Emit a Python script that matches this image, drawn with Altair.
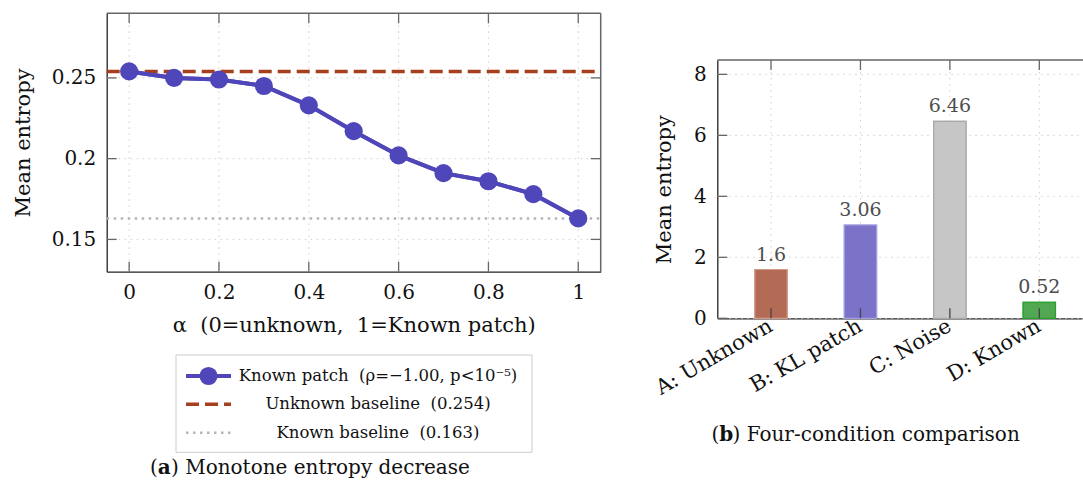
import altair as alt
import pandas as pd

# ---------------- data ----------------
alphas = [0.0, 0.1, 0.2, 0.3, 0.4, 0.5, 0.6, 0.7, 0.8, 0.9, 1.0]
entropy = [0.254, 0.250, 0.249, 0.245, 0.233, 0.217, 0.202, 0.191, 0.186, 0.178, 0.163]
unknown_baseline = 0.254
known_baseline = 0.163

conditions = ["A: Unknown", "B: KL patch", "C: Noise", "D: Known"]
cond_values = [1.6, 3.06, 6.46, 0.52]

left_x_ticks = [0, 0.2, 0.4, 0.6, 0.8, 1]
left_y_ticks = [0.15, 0.2, 0.25]
right_y_ticks = [0, 2, 4, 6, 8]

SP2 = "\u00a0 "  # wide gap that SVG does not collapse
legend_labels = ["Known patch" + SP2 + "(ρ=−1.00, p<10⁻⁵)",
                 "Unknown baseline" + SP2 + "(0.254)",
                 "Known baseline" + SP2 + "(0.163)"]
x_title_left = "α" + SP2 + "(0=unknown," + SP2 + "1=Known patch)"

# ---------------- layout / style ----------------
W, H = 1083, 493
LX0, LX1, LY0, LY1 = 106.7, 600.7, 13.3, 271.7
RX0, RX1, RY0, RY1 = 717.3, 1083, 60.0, 318.3
FONT = "DejaVu Serif"
BLUE = "#4f47b9"
BROWN = "#a63f1e"
GRAY_DOT = "#b5b5b5"
GRID = "#cfcfcf"
TICK = "#666666"
FRAME = "#666666"
bar_fills = ["#b36b55", "#7b73c8", "#c6c6c6", "#52a852"]
bar_strokes = ["#d39a88", "#a49ee0", "#a8a8a8", "#2ca02c"]

line_df = pd.DataFrame({"alpha": alphas, "entropy": entropy})
bar_df = pd.DataFrame({"cond": conditions, "val": cond_values})
lx_df = pd.DataFrame({"alpha": left_x_ticks})
ly_df = pd.DataFrame({"entropy": left_y_ticks})
ry_df = pd.DataFrame({"val": right_y_ticks})
cond_df = pd.DataFrame({"cond": conditions})
one = pd.DataFrame({"k": [0]})

# ---------------- scales / axes ----------------
xs = alt.Scale(domain=[-0.05, 1.05], range=[LX0, LX1], nice=False, zero=False)
ys = alt.Scale(domain=[0.13, 0.29], range=[LY1, LY0], nice=False, zero=False)
xb = alt.Scale(domain=conditions, range=[RX0, 1082], paddingInner=0.6388,
               paddingOuter=0.3584, align=0.586)
yb = alt.Scale(domain=[0, 8.47], range=[RY1, RY0], nice=False)

x_axis_l = alt.Axis(orient="bottom", offset=-(H - LY1), values=left_x_ticks, format="~g",
                    ticks=False, grid=False, domainColor="#222222", domainWidth=1.3,
                    labelPadding=11, labelFontSize=20, labelColor="#111111",
                    title=x_title_left, titleFontSize=21,
                    titleFontWeight="normal", titleColor="#111111",
                    titleY=53.3, titleBaseline="middle")
y_axis_l = alt.Axis(orient="left", offset=-LX0, values=left_y_ticks, format="~g",
                    ticks=False, grid=False, domainColor="#222222", domainWidth=1.3,
                    labelPadding=11, labelFontSize=20, labelColor="#111111",
                    title="Mean entropy", titleFontSize=21, titleFontWeight="normal",
                    titleColor="#111111", titleX=-77.7, titleBaseline="alphabetic")
x_axis_r = alt.Axis(orient="bottom", offset=-(H - RY1), ticks=False, grid=False,
                    domainColor="#222222", domainWidth=1.3, labelAngle=330,
                    labelAlign="right", labelBaseline="middle", labelPadding=6,
                    labelFontSize=21, labelColor="#111111", title=None)
y_axis_r = alt.Axis(orient="left", offset=-RX0, values=right_y_ticks, ticks=False,
                    grid=False, domainColor="#222222", domainWidth=1.3,
                    labelPadding=11, labelFontSize=20, labelColor="#111111",
                    title="Mean entropy", titleFontSize=21, titleFontWeight="normal",
                    titleColor="#111111", titleX=-47, titleBaseline="alphabetic")

XL = lambda: alt.X("alpha:Q", scale=xs, axis=x_axis_l)
YL = lambda: alt.Y("entropy:Q", scale=ys, axis=y_axis_l)
XR = lambda: alt.X("cond:N", scale=xb, axis=x_axis_r, sort=conditions)
XRc = lambda: alt.X("cond:N", scale=xb, axis=x_axis_r, sort=conditions, bandPosition=0.5)
YR = lambda: alt.Y("val:Q", scale=yb, axis=y_axis_r)

# ---------------- left panel ----------------
l_grid_y = alt.Chart(ly_df).mark_rule(color=GRID, strokeDash=[1.5, 4.5], strokeWidth=1).encode(
    y=YL(), x=alt.value(LX0), x2=alt.value(LX1))
l_grid_x = alt.Chart(lx_df).mark_rule(color=GRID, strokeDash=[1.5, 4.5], strokeWidth=1).encode(
    x=XL(), y=alt.value(LY0), y2=alt.value(LY1))
l_tick_l = alt.Chart(ly_df).mark_rule(color=TICK, strokeWidth=1.3).encode(
    y=YL(), x=alt.value(LX0), x2=alt.value(LX0 + 10))
l_tick_r = alt.Chart(ly_df).mark_rule(color=TICK, strokeWidth=1.3).encode(
    y=YL(), x=alt.value(LX1 - 10), x2=alt.value(LX1))
l_tick_b = alt.Chart(lx_df).mark_rule(color=TICK, strokeWidth=1.3).encode(
    x=XL(), y=alt.value(LY1 - 10), y2=alt.value(LY1))
l_tick_t = alt.Chart(lx_df).mark_rule(color=TICK, strokeWidth=1.3).encode(
    x=XL(), y=alt.value(LY0), y2=alt.value(LY0 + 10))
l_frame_t = alt.Chart(one).mark_rule(color=FRAME, strokeWidth=1.5).encode(
    x=alt.value(LX0), x2=alt.value(LX1), y=alt.value(LY0))
l_frame_r = alt.Chart(one).mark_rule(color=FRAME, strokeWidth=1.5).encode(
    x=alt.value(LX1), y=alt.value(LY0), y2=alt.value(LY1))

base_unknown = alt.Chart(pd.DataFrame({"entropy": [unknown_baseline]})).mark_rule(
    color=BROWN, strokeWidth=3.5, strokeDash=[13, 6]).encode(
    y=YL(), x=alt.value(LX0), x2=alt.value(LX1))
base_known = alt.Chart(pd.DataFrame({"entropy": [known_baseline]})).mark_rule(
    color=GRAY_DOT, strokeWidth=2.5, strokeDash=[2.5, 4.5]).encode(
    y=YL(), x=alt.value(LX0), x2=alt.value(LX1))

l_line = alt.Chart(line_df).mark_line(color=BLUE, strokeWidth=4).encode(x=XL(), y=YL())
l_pts = alt.Chart(line_df).mark_circle(color=BLUE, size=330, opacity=1).encode(x=XL(), y=YL())

left = alt.layer(l_line, l_grid_y, l_grid_x, base_known, base_unknown, l_line, l_pts,
                 l_tick_l, l_tick_r, l_tick_b, l_tick_t, l_frame_t, l_frame_r)

# ---------------- right panel ----------------
r_grid_y = alt.Chart(ry_df).mark_rule(color=GRID, strokeDash=[1.5, 4.5], strokeWidth=1).encode(
    y=YR(), x=alt.value(RX0), x2=alt.value(RX1))
r_grid_x = alt.Chart(cond_df).mark_rule(color=GRID, strokeDash=[1.5, 4.5], strokeWidth=1).encode(
    x=XRc(), y=alt.value(RY0), y2=alt.value(RY1))

r_bars = alt.Chart(bar_df).mark_bar(strokeWidth=1.2).encode(
    x=XR(), y=YR(),
    fill=alt.Fill("cond:N", scale=alt.Scale(domain=conditions, range=bar_fills), legend=None),
    stroke=alt.Stroke("cond:N", scale=alt.Scale(domain=conditions, range=bar_strokes), legend=None))
r_text = alt.Chart(bar_df).mark_text(dy=-9, baseline="alphabetic", fontSize=19,
                                     color="#4d4d4d").encode(
    x=XRc(), y=YR(), text=alt.Text("val:Q", format="~g"))
r_tick_l = alt.Chart(ry_df).mark_rule(color=TICK, strokeWidth=1.3).encode(
    y=YR(), x=alt.value(RX0), x2=alt.value(RX0 + 10))
r_tick_t = alt.Chart(cond_df).mark_rule(color=TICK, strokeWidth=1.3).encode(
    x=XRc(), y=alt.value(RY0), y2=alt.value(RY0 + 10))
r_tick_b = alt.Chart(cond_df).mark_rule(color="#444444", strokeWidth=1.3).encode(
    x=XRc(), y=alt.value(RY1 - 10), y2=alt.value(RY1))
r_frame_t = alt.Chart(one).mark_rule(color=FRAME, strokeWidth=1.5).encode(
    x=alt.value(RX0), x2=alt.value(RX1), y=alt.value(RY0))

right = alt.layer(r_bars, r_grid_y, r_grid_x, r_bars, r_text, r_tick_l, r_tick_t, r_tick_b, r_frame_t)

# ---------------- legend (left panel) ----------------
LEG = dict(x0=176, x1=532, y0=355, y1=452.3, rows=[376, 404.3, 432.7], sx0=186, sx1=231, tx=378)
leg_box = alt.Chart(one).mark_rect(fill="white", stroke="#cccccc", strokeWidth=1).encode(
    x=alt.value(LEG["x0"]), x2=alt.value(LEG["x1"]), y=alt.value(LEG["y0"]), y2=alt.value(LEG["y1"]))
leg_l1 = alt.Chart(one).mark_rule(color=BLUE, strokeWidth=4).encode(
    x=alt.value(LEG["sx0"]), x2=alt.value(LEG["sx1"]), y=alt.value(LEG["rows"][0]))
leg_p1 = alt.Chart(one).mark_circle(color=BLUE, size=330, opacity=1).encode(
    x=alt.value((LEG["sx0"] + LEG["sx1"]) / 2), y=alt.value(LEG["rows"][0]))
leg_l2 = alt.Chart(one).mark_rule(color=BROWN, strokeWidth=3.5, strokeDash=[13, 6]).encode(
    x=alt.value(LEG["sx0"]), x2=alt.value(LEG["sx1"]), y=alt.value(LEG["rows"][1]))
leg_l3 = alt.Chart(one).mark_rule(color=GRAY_DOT, strokeWidth=2.5, strokeDash=[2.5, 4.5]).encode(
    x=alt.value(LEG["sx0"]), x2=alt.value(LEG["sx1"]), y=alt.value(LEG["rows"][2]))
leg_texts = [
    alt.Chart(one).mark_text(align="center", baseline="middle", fontSize=16.5, color="#111111").encode(
        x=alt.value(LEG["tx"]), y=alt.value(LEG["rows"][i]), text=alt.value(lbl))
    for i, lbl in enumerate(legend_labels)
]

# ---------------- captions ----------------
def caption(letter, rest, x_left, y):
    return [
        alt.Chart(one).mark_text(align="right", baseline="middle", fontSize=20, color="#111111").encode(
            x=alt.value(x_left + 7.8), y=alt.value(y), text=alt.value("(")),
        alt.Chart(one).mark_text(align="left", baseline="middle", fontSize=20, fontWeight="bold",
                                 color="#111111").encode(
            x=alt.value(x_left + 7.8), y=alt.value(y), text=alt.value(letter)),
        alt.Chart(one).mark_text(align="left", baseline="middle", fontSize=20, color="#111111").encode(
            x=alt.value(x_left + 21.0), y=alt.value(y), text=alt.value(rest)),
    ]

cap_a = caption("a", ") Monotone entropy decrease", 150, 468)
cap_b = caption("b", ") Four-condition comparison", 711.5, 435)

chart = alt.layer(
    left, right, leg_box, leg_l1, leg_p1, leg_l2, leg_l3, *leg_texts, *cap_a, *cap_b
).resolve_scale(x="independent", y="independent").resolve_axis(
    x="independent", y="independent"
).properties(
    width=W, height=H, padding=0, autosize=alt.AutoSizeParams(type="none")
).configure(font=FONT).configure_view(stroke=None).configure_axis(
    labelFont=FONT, titleFont=FONT)

chart.save("out.html", embed_options={"renderer": "svg", "actions": False})
